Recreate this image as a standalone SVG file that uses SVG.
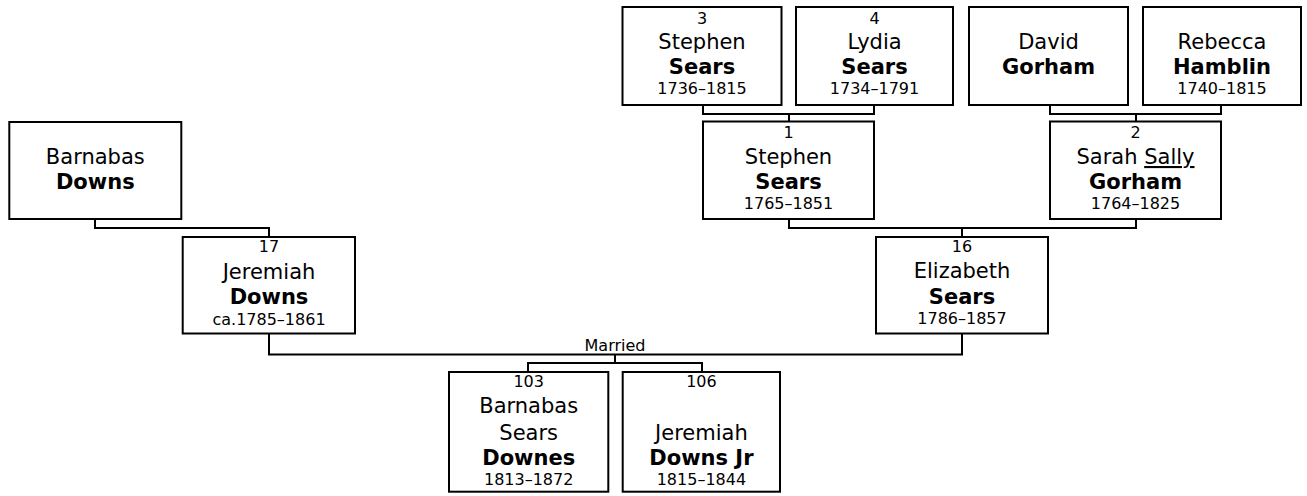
<svg xmlns="http://www.w3.org/2000/svg" width="1307" height="496" viewBox="0 0 1307 496">
<style>
text{font-family:"DejaVu Sans",Verdana,sans-serif;fill:#000;text-anchor:middle}
.box{fill:#fff;stroke:#000;stroke-width:2}
.n{font-size:16px}
.nm{font-size:21px}
.sn{font-size:21px;font-weight:bold}
.d{font-size:16px}
.lbl{font-size:16px}
.c{fill:none;stroke:#000;stroke-width:2}
</style>
<rect width="1307" height="496" fill="#fff"/>
<g id="connectors">
<path class="c" d="M703,106V114H874V106M789,114V121"/>
<path class="c" d="M1050,106V114H1221V106M1136,114V121"/>
<path class="c" d="M789,220V228H1136V220M962,228V236"/>
<path class="c" d="M95,220V228H269V236"/>
<path class="c" d="M269,334V354.5H962V334M615,354.5V363M528,371V363H702V371"/>
<text class="lbl" x="615" y="350.5">Married</text>
</g>
<g id="p3">
<rect class="box" x="622.5" y="7" width="159" height="98"/>
<text class="n" x="702" y="23.5">3</text>
<text class="nm" x="702" y="49">Stephen</text>
<text class="sn" x="702" y="74">Sears</text>
<text class="d" x="702" y="94">1736–1815</text>
</g>
<g id="p4">
<rect class="box" x="796" y="7" width="157" height="98"/>
<text class="n" x="874.5" y="23.5">4</text>
<text class="nm" x="874.5" y="49">Lydia</text>
<text class="sn" x="874.5" y="74">Sears</text>
<text class="d" x="874.5" y="94">1734–1791</text>
</g>
<g id="pDavid">
<rect class="box" x="969" y="7" width="159" height="98"/>
<text class="nm" x="1048.5" y="49">David</text>
<text class="sn" x="1048.5" y="74">Gorham</text>
</g>
<g id="pRebecca">
<rect class="box" x="1143" y="7" width="158" height="98"/>
<text class="nm" x="1222" y="49">Rebecca</text>
<text class="sn" x="1222" y="74">Hamblin</text>
<text class="d" x="1222" y="94">1740–1815</text>
</g>
<g id="p1">
<rect class="box" x="703" y="121.5" width="171" height="97.5"/>
<text class="n" x="788.5" y="137.5">1</text>
<text class="nm" x="788.5" y="164">Stephen</text>
<text class="sn" x="788.5" y="189">Sears</text>
<text class="d" x="788.5" y="209">1765–1851</text>
</g>
<g id="p2">
<rect class="box" x="1050" y="121.5" width="171" height="97.5"/>
<text class="n" x="1135.5" y="137.5">2</text>
<text class="nm" x="1135.5" y="164">Sarah <tspan text-decoration="underline">Sally</tspan></text>
<text class="sn" x="1135.5" y="189">Gorham</text>
<text class="d" x="1135.5" y="209">1764–1825</text>
</g>
<g id="pBarnabas">
<rect class="box" x="9.3" y="122" width="172" height="97"/>
<text class="nm" x="95.3" y="163.5">Barnabas</text>
<text class="sn" x="95.3" y="188.5">Downs</text>
</g>
<g id="p17">
<rect class="box" x="182.7" y="237" width="172.3" height="96.5"/>
<text class="n" x="269" y="252">17</text>
<text class="nm" x="269" y="278.5">Jeremiah</text>
<text class="sn" x="269" y="304">Downs</text>
<text class="d" x="269" y="324.5">ca.1785–1861</text>
</g>
<g id="p16">
<rect class="box" x="876" y="237" width="172" height="96.5"/>
<text class="n" x="962" y="252">16</text>
<text class="nm" x="962" y="278">Elizabeth</text>
<text class="sn" x="962" y="303.5">Sears</text>
<text class="d" x="962" y="323.5">1786–1857</text>
</g>
<g id="p103">
<rect class="box" x="449" y="372" width="159.3" height="119.7"/>
<text class="n" x="528.7" y="387">103</text>
<text class="nm" x="528.7" y="413">Barnabas</text>
<text class="nm" x="528.7" y="439.5">Sears</text>
<text class="sn" x="528.7" y="465">Downes</text>
<text class="d" x="528.7" y="485">1813–1872</text>
</g>
<g id="p106">
<rect class="box" x="622.7" y="372" width="157.3" height="119.7"/>
<text class="n" x="701.4" y="387">106</text>
<text class="nm" x="701.4" y="439.5">Jeremiah</text>
<text class="sn" x="701.4" y="465">Downs Jr</text>
<text class="d" x="701.4" y="485">1815–1844</text>
</g>
</svg>
